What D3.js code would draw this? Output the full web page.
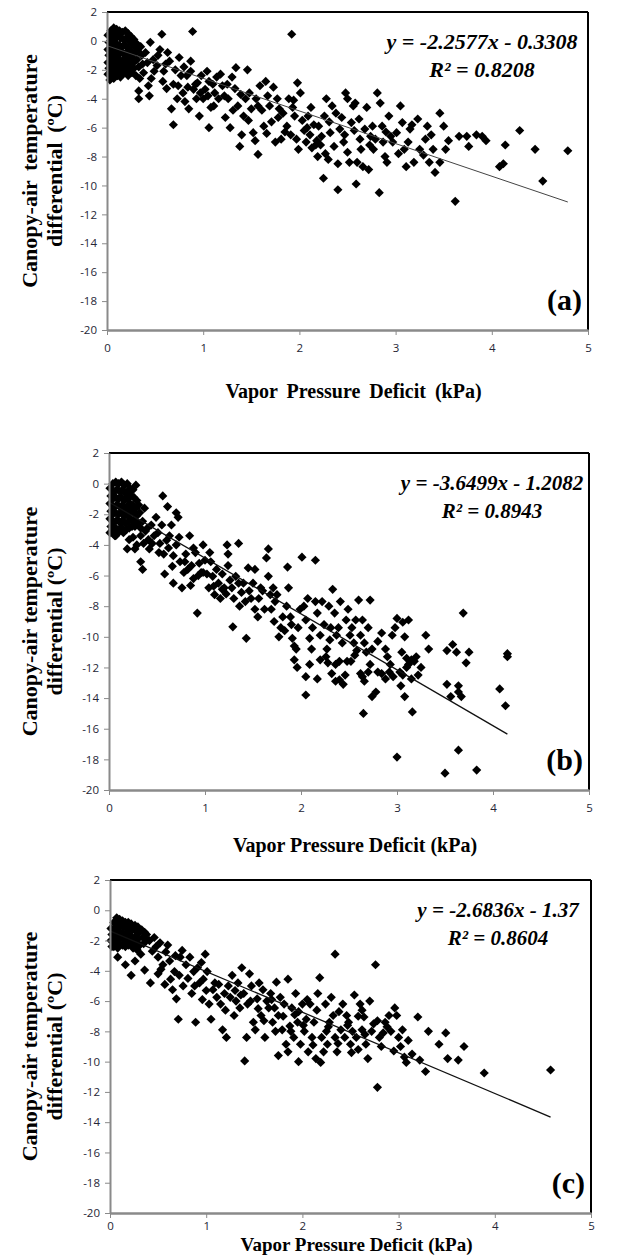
<!DOCTYPE html>
<html>
<head>
<meta charset="utf-8">
<script src="https://cdn.jsdelivr.net/npm/d3@7"></script>
<style>
  body { margin: 0; background: #fff; }
  .tick text { font-family: "Open Sans", sans-serif; font-size: 11.5px; fill: #262636; }
  .tick line, .domain { stroke: #8a8a8a; }
</style>
</head>
<body>
<svg id="chart" width="624" height="1258"></svg>
<script>
// Canopy-air temperature differential vs VPD, three panels

const xTicks = [0, 1, 2, 3, 4, 5];
const yTicks = [2, 0, -2, -4, -6, -8, -10, -12, -14, -16, -18, -20];
const panelLabels = ['(a)', '(b)', '(c)'];
const equations = ['y = -2.2577x - 0.3308', 'y = -3.6499x - 1.2082', 'y = -2.6836x - 1.37'];
const r2Labels = ['R² = 0.8208', 'R² = 0.8943', 'R² = 0.8604'];
const slopes = [-2.2577, -3.6499, -2.6836];
const intercepts = [-0.3308, -1.2082, -1.37];

// panel (a) points [VPD, dT]
const pointsA = [
  [0.01,0.4],[0.02,-0.1],[0.01,-0.6],[0.02,-1.0],[0.01,-1.5],[0.02,-1.9],[0.01,-2.3],[0.03,-2.7],
  [0.04,0.7],[0.05,0.2],[0.04,-0.3],[0.05,-0.8],[0.04,-1.2],[0.05,-1.7],[0.04,-2.1],[0.05,-2.5],
  [0.07,0.9],[0.08,0.5],[0.07,0.0],[0.08,-0.5],[0.07,-0.9],[0.08,-1.4],[0.07,-1.8],[0.08,-2.2],[0.07,-2.6],
  [0.10,0.8],[0.11,0.3],[0.10,-0.2],[0.11,-0.7],[0.10,-1.1],[0.11,-1.6],[0.10,-2.0],[0.11,-2.4],
  [0.13,0.7],[0.14,0.2],[0.13,-0.3],[0.14,-0.8],[0.13,-1.3],[0.14,-1.7],[0.13,-2.1],[0.14,-2.5],
  [0.16,0.6],[0.17,0.1],[0.16,-0.4],[0.17,-0.9],[0.16,-1.4],[0.17,-1.9],[0.16,-2.3],
  [0.19,0.7],[0.20,0.2],[0.19,-0.3],[0.20,-0.8],[0.19,-1.2],[0.20,-1.7],[0.19,-2.2],
  [0.22,0.5],[0.23,0.0],[0.22,-0.5],[0.23,-1.0],[0.22,-1.5],[0.23,-2.0],[0.22,-2.4],
  [0.25,0.3],[0.26,-0.2],[0.25,-0.7],[0.26,-1.2],[0.25,-1.7],[0.26,-2.2],
  [0.28,0.1],[0.29,-0.4],[0.28,-0.9],[0.29,-1.4],[0.28,-1.9],[0.30,-2.4],
  [0.31,-0.2],[0.32,-0.7],[0.31,-1.3],[0.33,-1.8],[0.35,-0.4],[0.36,-1.0],[0.37,-1.6],[0.38,-2.2],[0.34,-2.6],
  [0.45,-0.1],[0.57,0.46],[0.89,0.65],[1.92,0.46],[0.40,-0.8],[0.48,-1.3],
  [0.33,-3.46],[0.33,-4.0],[0.43,-3.1],[0.44,-3.8],[0.49,-2.1],[0.53,-1.0],[0.55,-0.6],[0.59,-2.1],
  [0.63,-0.8],[0.65,-1.4],[0.69,-3.0],[0.67,-4.7],[0.69,-5.8],[0.73,-4.0],[0.75,-1.15],[0.77,-2.4],
  [0.79,-3.6],[0.83,-2.4],[0.87,-1.4],[0.87,-2.1],[0.85,-4.7],[0.90,-3.35],[0.93,-4.0],[0.94,-2.9],
  [0.98,-2.4],[0.96,-5.2],[1.00,-4.0],[1.02,-3.35],[1.04,-2.1],[1.06,-2.8],[1.08,-4.6],[1.06,-6.0],
  [1.12,-3.6],[1.14,-2.5],[1.16,-4.0],[1.18,-2.3],[1.20,-3.1],[1.23,-5.3],[1.28,-6.0],[1.26,-4.0],
  [1.30,-2.5],[1.34,-1.85],[1.36,-4.5],[1.38,-7.3],[1.40,-6.5],[1.42,-5.2],[1.46,-2.0],[1.48,-3.6],
  [1.50,-4.7],[1.52,-6.35],[1.54,-6.9],[1.57,-7.85],[1.57,-4.5],[1.59,-3.1],[1.63,-5.9],[1.65,-2.8],
  [1.67,-3.8],[1.69,-4.5],[1.73,-3.2],[1.75,-7.0],[1.77,-4.0],[1.81,-6.8],[1.83,-5.0],[1.87,-5.9],
  [1.89,-4.0],[1.93,-4.6],[1.95,-5.2],[1.97,-6.8],[1.98,-2.9],[2.01,-3.6],[1.99,-7.5],[2.05,-6.2],
  [2.07,-7.0],[2.09,-5.2],[2.11,-6.5],[2.13,-7.4],[2.15,-5.8],[2.17,-7.2],[2.19,-8.0],[2.20,-5.9],
  [2.22,-7.2],[2.25,-9.5],[2.26,-5.2],[2.28,-4.0],[2.30,-8.2],[2.32,-6.35],[2.34,-4.5],[2.38,-5.0],
  [2.40,-10.3],[2.40,-8.5],[2.42,-6.1],[2.46,-7.0],[2.48,-3.6],[2.50,-4.0],[2.50,-7.7],[2.52,-8.4],
  [2.54,-5.65],[2.56,-4.5],[2.58,-4.3],[2.59,-9.9],[2.60,-8.4],[2.62,-5.4],[2.64,-7.5],[2.66,-8.7],
  [2.68,-6.1],[2.70,-4.6],[2.72,-8.9],[2.74,-6.6],[2.76,-5.9],[2.77,-7.5],[2.81,-3.6],[2.83,-10.5],
  [2.84,-4.3],[2.86,-5.9],[2.87,-7.0],[2.89,-8.0],[2.91,-8.4],[2.93,-5.2],[2.97,-7.0],[3.01,-6.35],
  [3.05,-4.5],[3.07,-5.65],[3.09,-7.5],[3.11,-8.7],[3.15,-6.1],[3.19,-8.4],[3.23,-5.4],[3.25,-7.5],
  [3.31,-6.8],[3.33,-5.9],[3.35,-8.4],[3.39,-7.5],[3.41,-9.1],[3.46,-5.0],[3.46,-8.4],[3.50,-5.9],
  [3.52,-7.5],[3.62,-11.1],[3.66,-6.6],[3.74,-6.6],[3.76,-7.3],[3.84,-6.5],[3.90,-6.6],[3.94,-6.9],
  [4.08,-8.7],[4.12,-8.5],[4.14,-7.2],[4.29,-6.2],[4.45,-7.5],[4.53,-9.7],[4.79,-7.6],
  [0.62,-3.3],[0.71,-2.0],[0.81,-4.2],[0.92,-3.0],[1.10,-3.0],[1.22,-3.8],[1.33,-3.3],[1.44,-4.0],
  [1.61,-4.8],[1.71,-5.6],[1.79,-4.7],[1.85,-6.3],[2.03,-5.5],[2.23,-6.6],[2.36,-7.3],[2.44,-5.3],
  [2.57,-6.2],[2.79,-6.8],[2.95,-6.6],[3.13,-7.0],[3.29,-7.9],[2.12,-4.6],[1.91,-6.5],[2.27,-7.8],
  [0.42,-1.5],[0.46,-2.6],[0.52,-1.7],[0.58,-2.8],[0.61,-1.6],[0.74,-3.1],[0.80,-1.8],[0.84,-3.2],
  [0.97,-3.6],[1.05,-3.8],[1.11,-4.5],[1.25,-3.0],[1.31,-4.8],[1.39,-3.7],[1.47,-5.5],[1.55,-4.0],
  [1.66,-6.4],[1.78,-5.3],[1.94,-4.1],[2.08,-6.0],[2.18,-6.9],[2.31,-5.6],[2.47,-6.5],[2.63,-6.8],
  [2.73,-7.2],[2.90,-6.3],[3.03,-7.8],[3.17,-5.8],[3.37,-6.5],[3.55,-6.9]
];

// panel (b) points
const pointsB = [
  [0.01,-0.3],[0.02,-0.8],[0.01,-1.3],[0.02,-1.8],[0.01,-2.3],[0.02,-2.8],[0.01,-3.2],
  [0.04,0.0],[0.05,-0.5],[0.04,-1.0],[0.05,-1.5],[0.04,-2.0],[0.05,-2.5],[0.04,-3.0],[0.06,-3.4],
  [0.07,0.1],[0.08,-0.4],[0.07,-0.9],[0.08,-1.4],[0.07,-1.9],[0.08,-2.4],[0.07,-2.9],[0.08,-3.3],
  [0.10,0.0],[0.11,-0.5],[0.10,-1.0],[0.11,-1.5],[0.10,-2.0],[0.11,-2.5],[0.10,-3.0],
  [0.13,0.1],[0.14,-0.4],[0.13,-0.9],[0.14,-1.4],[0.13,-1.9],[0.14,-2.4],[0.13,-2.9],[0.15,-3.2],
  [0.16,-0.1],[0.17,-0.6],[0.16,-1.1],[0.17,-1.6],[0.16,-2.1],[0.17,-2.6],[0.18,-3.0],
  [0.19,0.0],[0.20,-0.5],[0.19,-1.0],[0.20,-1.5],[0.19,-2.0],[0.20,-2.5],[0.21,-2.9],
  [0.22,-0.3],[0.23,-0.8],[0.22,-1.3],[0.23,-1.8],[0.22,-2.3],[0.24,-2.8],
  [0.25,-0.4],[0.26,-0.9],[0.25,-1.4],[0.26,-1.9],[0.25,-2.4],[0.27,-2.8],
  [0.28,-0.1],[0.29,-1.1],[0.28,-1.6],[0.29,-2.1],[0.30,-2.6],[0.31,-1.4],[0.32,-1.9],[0.33,-2.9],
  [0.07,-3.4],[0.21,-3.66],[0.19,-4.26],[0.27,-4.26],[0.29,-4.0],[0.25,-3.5],[0.33,-3.4],[0.35,-2.46],
  [0.37,-1.6],[0.33,-5.1],[0.35,-5.6],[0.41,-3.66],[0.42,-4.26],[0.44,-2.7],[0.49,-2.2],[0.51,-3.2],
  [0.53,-3.9],[0.55,-2.7],[0.56,-0.8],[0.57,-4.6],[0.58,-5.9],[0.61,-1.5],[0.63,-3.4],[0.65,-2.7],
  [0.67,-4.7],[0.67,-6.5],[0.70,-1.9],[0.70,-4.0],[0.72,-2.2],[0.74,-5.1],[0.76,-6.8],[0.78,-5.8],
  [0.80,-4.6],[0.82,-5.6],[0.84,-3.4],[0.85,-6.65],[0.86,-5.35],[0.88,-6.2],[0.90,-4.5],[0.92,-8.45],
  [0.94,-5.2],[0.96,-5.8],[0.98,-4.0],[0.98,-5.8],[1.00,-5.0],[1.02,-5.9],[1.04,-6.8],[1.06,-5.1],
  [1.08,-6.05],[1.10,-7.25],[1.12,-5.6],[1.14,-6.5],[1.16,-7.5],[1.18,-5.9],[1.20,-6.8],[1.23,-4.0],
  [1.24,-4.6],[1.24,-5.35],[1.26,-6.3],[1.28,-6.8],[1.29,-9.35],[1.30,-7.5],[1.32,-6.05],[1.35,-3.9],
  [1.36,-8.0],[1.40,-6.5],[1.42,-7.7],[1.43,-10.1],[1.46,-7.0],[1.48,-7.5],[1.50,-6.5],[1.52,-5.6],
  [1.52,-8.2],[1.56,-7.5],[1.58,-6.8],[1.62,-8.2],[1.64,-4.85],[1.66,-4.26],[1.66,-6.05],[1.68,-7.25],
  [1.69,-8.2],[1.71,-6.8],[1.73,-7.7],[1.75,-7.25],[1.77,-10.0],[1.79,-9.4],[1.81,-8.7],[1.83,-9.6],
  [1.85,-8.0],[1.86,-5.45],[1.87,-6.8],[1.89,-8.7],[1.91,-10.1],[1.93,-10.6],[1.95,-10.8],[1.97,-9.4],
  [1.99,-8.2],[2.01,-4.8],[2.03,-8.0],[2.05,-8.9],[2.07,-7.5],[2.09,-10.1],[2.11,-10.8],[2.15,-5.0],
  [2.15,-7.7],[2.17,-8.45],[2.20,-9.9],[2.22,-7.7],[2.24,-9.2],[2.27,-10.8],[2.29,-8.0],[2.31,-9.4],
  [2.33,-6.9],[2.35,-8.45],[2.37,-9.9],[2.39,-9.4],[2.41,-7.7],[2.43,-10.4],[2.47,-8.9],[2.49,-8.2],
  [2.51,-9.9],[2.53,-9.4],[2.55,-10.4],[2.57,-8.9],[2.60,-7.6],[2.62,-9.9],[2.64,-8.9],[2.66,-10.4],
  [2.70,-9.4],[2.72,-7.6],[2.74,-10.8],[2.84,-9.75],[2.88,-10.8],[2.98,-9.4],[3.00,-8.8],[3.06,-9.05],
  [3.08,-10.0],[3.12,-8.9],[3.30,-9.9],[3.33,-10.8],[3.52,-10.9],[3.58,-10.5],[3.62,-11.0],[3.69,-8.45],
  [3.75,-11.0],[4.15,-11.1],
  [1.93,-11.5],[2.05,-12.6],[2.05,-13.8],[2.09,-11.8],[2.17,-12.75],[2.20,-11.5],[2.28,-11.7],[2.32,-12.4],
  [2.36,-11.8],[2.36,-12.9],[2.40,-12.8],[2.40,-11.6],[2.44,-13.1],[2.46,-12.5],[2.48,-11.6],[2.62,-12.4],
  [2.64,-12.6],[2.65,-15.0],[2.66,-12.9],[2.72,-11.8],[2.74,-13.9],[2.78,-13.6],[2.80,-12.3],[2.84,-12.4],
  [2.88,-12.75],[2.92,-12.3],[2.96,-12.6],[3.00,-17.85],[3.03,-12.3],[3.04,-13.2],[3.06,-12.5],[3.08,-13.9],
  [3.12,-11.8],[3.15,-12.75],[3.16,-14.9],[3.18,-11.6],[3.52,-13.1],[3.50,-18.9],[3.56,-13.9],[3.64,-13.2],
  [3.64,-13.6],[3.67,-13.9],[3.64,-17.4],[3.72,-11.7],[3.83,-18.7],[4.07,-13.4],[4.13,-14.5],[4.15,-11.3],
  [3.05,-11.0],[3.10,-11.4],[3.15,-11.5],[3.20,-11.3],[3.25,-12.0],[3.10,-12.0],[2.56,-11.2],[2.68,-11.0],
  [2.90,-11.3],[2.30,-10.2],[2.80,-10.3],[2.58,-10.9],[2.95,-9.9],[1.60,-7.0],[1.35,-6.5],[1.45,-5.5],
  [0.62,-4.2],[0.47,-3.4],[0.40,-2.9],[0.36,-3.9],[0.73,-3.5],[0.88,-4.2],[1.05,-4.5],[1.18,-6.9],
  [0.38,-3.1],[0.45,-3.9],[0.52,-4.5],[0.60,-3.7],[0.66,-5.4],[0.79,-5.1],[0.93,-6.0],[1.09,-6.7],
  [1.22,-7.2],[1.38,-7.1],[1.55,-8.7],[1.72,-9.0],[1.90,-9.2],[2.12,-9.4],[2.26,-11.3],[2.52,-11.6],
  [2.70,-12.3],[2.93,-11.8],[3.22,-12.5],[1.96,-12.0]
];

// panel (c) points
const pointsC = [
  [0.01,-1.2],[0.02,-1.6],[0.01,-2.0],[0.02,-2.4],
  [0.04,-0.8],[0.05,-1.2],[0.04,-1.6],[0.05,-2.0],[0.04,-2.4],
  [0.07,-0.5],[0.08,-0.9],[0.07,-1.3],[0.08,-1.7],[0.07,-2.1],[0.08,-2.5],
  [0.10,-0.6],[0.11,-1.0],[0.10,-1.4],[0.11,-1.8],[0.10,-2.2],
  [0.13,-0.7],[0.14,-1.1],[0.13,-1.5],[0.14,-1.9],[0.13,-2.3],
  [0.16,-0.8],[0.17,-1.2],[0.16,-1.6],[0.17,-2.0],[0.16,-2.4],
  [0.19,-0.8],[0.20,-1.2],[0.19,-1.6],[0.20,-2.0],[0.19,-2.3],
  [0.22,-0.9],[0.23,-1.3],[0.22,-1.7],[0.23,-2.1],[0.24,-2.5],
  [0.26,-1.0],[0.27,-1.4],[0.26,-1.8],[0.27,-2.2],
  [0.29,-1.1],[0.30,-1.5],[0.29,-1.9],[0.31,-2.3],[0.33,-1.3],[0.34,-1.8],[0.35,-2.2],[0.38,-1.6],[0.41,-2.0],
  [0.08,-3.1],[0.16,-3.6],[0.22,-4.3],[0.26,-3.35],[0.28,-2.6],[0.32,-2.9],[0.36,-1.45],[0.38,-1.9],
  [0.36,-3.95],[0.42,-4.8],[0.46,-1.8],[0.48,-2.4],[0.50,-3.1],[0.52,-2.15],[0.55,-3.6],[0.58,-2.75],
  [0.60,-2.3],[0.62,-3.35],[0.63,-4.55],[0.65,-5.25],[0.67,-4.05],[0.69,-5.85],[0.71,-7.2],[0.73,-3.1],
  [0.75,-2.65],[0.76,-5.0],[0.79,-3.6],[0.83,-3.1],[0.85,-5.5],[0.87,-4.05],[0.89,-7.4],[0.91,-3.8],
  [0.93,-4.8],[0.95,-3.45],[0.97,-4.55],[0.99,-2.9],[1.01,-4.05],[1.03,-6.2],[1.05,-7.2],[1.07,-5.25],
  [1.09,-4.8],[1.11,-5.75],[1.13,-4.9],[1.15,-6.2],[1.17,-7.9],[1.21,-8.4],[1.23,-5.0],[1.25,-5.75],
  [1.27,-4.3],[1.29,-6.95],[1.31,-6.0],[1.33,-4.8],[1.35,-6.45],[1.37,-3.8],[1.39,-5.5],[1.40,-9.95],
  [1.42,-8.4],[1.43,-6.2],[1.45,-4.2],[1.47,-5.0],[1.49,-7.4],[1.51,-7.9],[1.53,-5.85],[1.55,-4.8],
  [1.57,-6.95],[1.59,-5.25],[1.61,-8.4],[1.63,-6.0],[1.65,-6.45],[1.67,-5.5],[1.69,-7.4],[1.71,-6.45],
  [1.73,-4.75],[1.75,-9.6],[1.75,-6.95],[1.77,-5.75],[1.79,-7.9],[1.81,-6.2],[1.83,-8.85],[1.85,-4.55],
  [1.85,-9.35],[1.87,-7.65],[1.89,-6.45],[1.91,-8.4],[1.93,-5.5],[1.95,-7.4],[1.96,-10.0],[1.96,-6.7],
  [1.98,-8.85],[2.00,-6.2],[2.02,-8.0],[2.04,-7.2],[2.06,-9.35],[2.08,-6.2],[2.10,-8.4],[2.12,-7.4],
  [2.14,-9.8],[2.16,-5.5],[2.18,-4.45],[2.19,-10.05],[2.20,-8.4],[2.22,-9.35],[2.24,-6.2],[2.26,-8.85],
  [2.28,-7.4],[2.30,-5.75],[2.32,-6.95],[2.34,-2.9],[2.34,-8.4],[2.36,-9.35],[2.38,-6.7],[2.40,-7.9],
  [2.42,-6.2],[2.44,-8.4],[2.46,-6.95],[2.48,-7.4],[2.50,-8.85],[2.52,-8.0],[2.54,-5.6],[2.56,-8.4],
  [2.58,-9.2],[2.60,-6.2],[2.62,-7.9],[2.64,-7.05],[2.66,-8.85],[2.68,-9.8],[2.70,-6.0],[2.72,-8.0],
  [2.76,-3.6],[2.78,-7.3],[2.80,-8.4],[2.82,-9.0],[2.86,-7.4],[2.90,-6.95],[2.92,-8.0],[2.96,-6.45],
  [2.98,-6.95],[3.00,-8.4],[3.02,-9.0],[3.04,-7.9],[3.06,-9.7],[3.08,-10.05],[3.20,-7.05],[3.22,-9.9],
  [3.28,-10.65],[3.31,-8.0],[3.42,-8.85],[3.49,-8.1],[3.51,-9.8],[3.62,-9.9],[3.68,-9.0],[3.89,-10.75],
  [4.58,-10.55],[2.78,-11.7],
  [0.44,-2.7],[0.53,-3.9],[0.68,-3.0],[0.81,-4.5],[0.96,-5.9],[1.19,-5.5],[1.36,-5.6],[1.54,-6.5],
  [1.68,-5.9],[1.80,-7.0],[1.92,-6.9],[2.05,-5.9],[2.15,-6.6],[2.27,-7.7],[2.47,-7.6],[2.58,-7.0],
  [2.74,-7.5],[2.88,-7.7],[3.10,-8.6],[2.62,-6.6],
  [0.50,-4.2],[0.57,-4.9],[0.72,-4.3],[0.88,-5.0],[1.00,-5.3],[1.20,-6.6],[1.30,-5.3],[1.46,-6.0],
  [1.60,-7.3],[1.72,-8.0],[1.88,-8.0],[2.01,-7.6],[2.11,-8.9],[2.25,-8.0],[2.37,-8.8],[2.51,-9.4],
  [2.65,-8.2],[2.84,-8.1],[2.95,-9.3],[3.14,-9.5]
];

const allPoints = [pointsA, pointsB, pointsC];

// plot rectangles and text placement for each panel
const panels = [
  { left: 107, right: 588, top: 12, bottom: 330, eqX: 482, eqSize: 22, tickDy: 1.2, titleDy: 68, titleSize: 20, wordSpace: 4 },
  { left: 109, right: 589, top: 453, bottom: 790, eqX: 492, eqSize: 21, tickDy: 1.2, titleDy: 62, titleSize: 20, wordSpace: 0 },
  { left: 110, right: 591, top: 880, bottom: 1213, eqX: 498, eqSize: 21, tickDy: 0.75, titleDy: 38, titleSize: 19, wordSpace: 0 }
];

const svg = d3.select('#chart');
const diamond = d3.symbol().type(d3.symbolSquare).size(42);
const serif = '"Liberation Serif", "Times New Roman", serif';

panels.forEach((p, i) => {
  const pts = allPoints[i];
  const x = d3.scaleLinear().domain([0, 5]).range([p.left, p.right]);
  const y = d3.scaleLinear().domain([-20, 2]).range([p.bottom, p.top]);
  const g = svg.append('g');

  // border: top and right black
  g.append('line').attr('x1', p.left).attr('x2', p.right).attr('y1', p.top).attr('y2', p.top)
    .attr('stroke', '#000').attr('stroke-width', 2);
  g.append('line').attr('x1', p.right).attr('x2', p.right).attr('y1', p.top).attr('y2', p.bottom)
    .attr('stroke', '#000').attr('stroke-width', 2);

  // points
  g.append('g').selectAll('path')
    .data(pts).enter().append('path')
    .attr('d', diamond)
    .attr('transform', d => `translate(${x(d[0])},${y(d[1])}) rotate(45)`)
    .attr('fill', '#000');

  // trendline
  const xr = d3.extent(pts, d => d[0]);
  g.append('line')
    .attr('x1', x(xr[0])).attr('y1', y(slopes[i] * xr[0] + intercepts[i]))
    .attr('x2', x(xr[1])).attr('y2', y(slopes[i] * xr[1] + intercepts[i]))
    .attr('stroke', i === 0 ? '#444' : '#111').attr('stroke-width', i === 0 ? 1 : 1.3);

  // axes
  const ya = g.append('g').attr('transform', `translate(${p.left},0)`)
    .call(d3.axisLeft(y).tickValues(yTicks).tickSize(5).tickSizeOuter(0).tickFormat(d => String(d)));
  const xa = g.append('g').attr('transform', `translate(0,${p.bottom})`)
    .call(d3.axisBottom(x).tickValues(xTicks).tickSize(5).tickSizeOuter(0).tickFormat(d => String(d)));
  ya.select('.domain').attr('stroke-width', 2);
  xa.select('.domain').attr('stroke-width', 2.5);
  ya.selectAll('.tick text').attr('dx', '-2');
  xa.selectAll('.tick text').attr('dy', p.tickDy + 'em');

  // equation
  [equations[i], r2Labels[i]].forEach((t, k) => {
    g.append('text').attr('x', p.eqX).attr('y', p.top + 37 + k * 28)
      .attr('text-anchor', 'middle')
      .style('font-family', serif).style('font-weight', 'bold')
      .style('font-style', 'italic').style('font-size', p.eqSize + 'px')
      .text(t);
  });

  // panel label
  g.append('text').attr('x', p.right - 6).attr('y', p.bottom - 20)
    .attr('text-anchor', 'end')
    .style('font-family', serif).style('font-weight', 'bold')
    .style('font-size', '30px')
    .text(panelLabels[i]);

  // axis titles
  g.append('text').attr('x', (p.left + p.right) / 2 + 6).attr('y', p.bottom + p.titleDy)
    .attr('text-anchor', 'middle')
    .style('font-family', serif).style('font-weight', 'bold')
    .style('font-size', p.titleSize + 'px').style('word-spacing', p.wordSpace + 'px')
    .text('Vapor Pressure Deficit (kPa)');
  const cy = (p.top + p.bottom) / 2;
  const yt = g.append('text').attr('transform', `translate(37,${cy}) rotate(-90)`)
    .attr('text-anchor', 'middle')
    .style('font-family', serif).style('font-weight', 'bold')
    .style('font-size', '22px').style('word-spacing', p.wordSpace + 'px');
  yt.append('tspan').attr('x', 0).attr('dy', 0).text('Canopy-air temperature');
  yt.append('tspan').attr('x', 0).attr('dy', 25).text('differential (ºC)');
});
</script>
</body>
</html>
